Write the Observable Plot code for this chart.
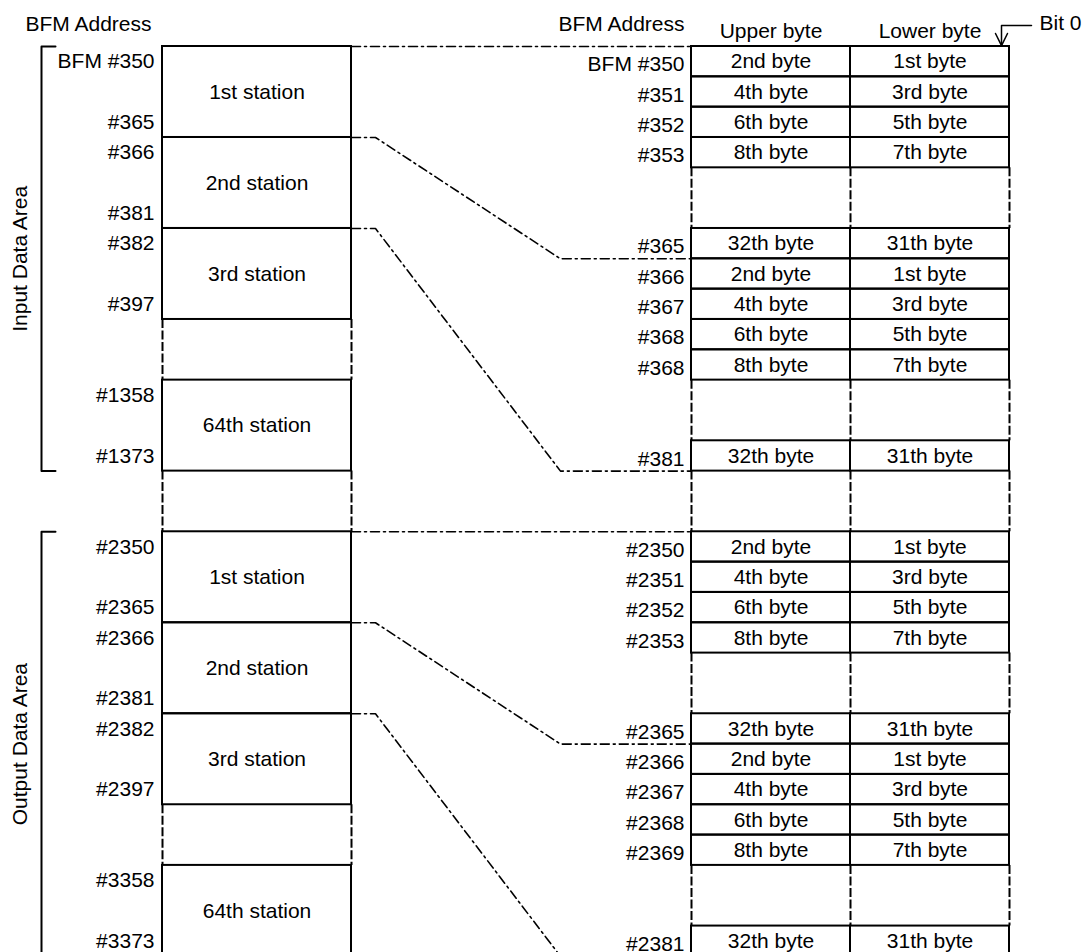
<!DOCTYPE html>
<html><head><meta charset="utf-8">
<script src="https://cdn.jsdelivr.net/npm/d3@7"></script>
<script src="https://cdn.jsdelivr.net/npm/@observablehq/plot@0.6"></script>
<style>html,body{margin:0;padding:0;background:#fff;overflow:hidden}</style>
</head><body><div id="chart"></div>
<script>
// ---------------- data ----------------
const areaNames = ["Input Data Area", "Output Data Area"];
const areaOffset = [0, 16];                 // first word-row of each area
const stationNames = ["1st station", "2nd station", "3rd station", "64th station"];
const stationRow = [0, 3, 6, 11];           // start row of each station inside an area (3 rows each)
const stationSpan = 3;
const inputFirstAddr = ["BFM #350", "#366", "#382", "#1358"];
const inputLastAddr  = ["#365", "#381", "#397", "#1373"];
const outputFirstAddr = ["#2350", "#2366", "#2382", "#3358"];
const outputLastAddr  = ["#2365", "#2381", "#2397", "#3373"];
const wordRow = [0, 1, 2, 3, 6, 7, 8, 9, 10, 13];
const inputWords  = ["BFM #350", "#351", "#352", "#353", "#365", "#366", "#367", "#368", "#368", "#381"];
const outputWords = ["#2350", "#2351", "#2352", "#2353", "#2365", "#2366", "#2367", "#2368", "#2369", "#2381"];
const upperBytes = ["2nd byte", "4th byte", "6th byte", "8th byte", "32th byte", "2nd byte", "4th byte", "6th byte", "8th byte", "32th byte"];
const lowerBytes = ["1st byte", "3rd byte", "5th byte", "7th byte", "31th byte", "1st byte", "3rd byte", "5th byte", "7th byte", "31th byte"];
const linkTargetRow = [0, 7, 14];           // row boundary in the word table reached by stations 1..3
const headerLeft = "BFM Address";
const headerRight = "BFM Address";
const columnHeaders = ["Upper byte", "Lower byte"];
const bitLabel = "Bit 0";

// ---------------- layout ----------------
const W = 1084, H = 952, ROW_PX = 30.33, TOP_PX = 46;
const X = {headerLeft: 25, areaLabel: 20, bracket: 41, bracketTick: 55, leftAddr: 154,
  blockL: 162, blockR: 351, bend1: 375, bend2: 560, rightAddr: 684,
  tableL: 691, tableM: 850, tableR: 1009, bitArrow: 1001, bitLineEnd: 1031, bitText: 1039};
const FONT = 21;

const firstAddr = [inputFirstAddr, outputFirstAddr];
const lastAddr = [inputLastAddr, outputLastAddr];
const words = [inputWords, outputWords];
const areaRows = stationRow[stationRow.length - 1] + stationSpan;

const stations = areaNames.flatMap((a, ai) => stationNames.map((name, i) => ({
  name, first: firstAddr[ai][i], last: lastAddr[ai][i],
  y1: areaOffset[ai] + stationRow[i], y2: areaOffset[ai] + stationRow[i] + stationSpan
})));
const rows = areaNames.flatMap((a, ai) => wordRow.map((r, i) => ({
  addr: words[ai][i], upper: upperBytes[i], lower: lowerBytes[i],
  y1: areaOffset[ai] + r, y2: areaOffset[ai] + r + 1
})));

// gaps (dashed sides)
const leftGaps = [];
const rightGaps = [];
areaNames.forEach((a, ai) => {
  for (let i = 1; i < stationRow.length; i++) {
    const end = stationRow[i - 1] + stationSpan;
    if (stationRow[i] > end) leftGaps.push([areaOffset[ai] + end, areaOffset[ai] + stationRow[i]]);
  }
  for (let i = 1; i < wordRow.length; i++) {
    if (wordRow[i] > wordRow[i - 1] + 1) rightGaps.push([areaOffset[ai] + wordRow[i - 1] + 1, areaOffset[ai] + wordRow[i]]);
  }
  if (ai + 1 < areaNames.length) {
    leftGaps.push([areaOffset[ai] + areaRows, areaOffset[ai + 1]]);
    rightGaps.push([areaOffset[ai] + wordRow[wordRow.length - 1] + 1, areaOffset[ai + 1]]);
  }
});
const gapRules = [
  ...leftGaps.flatMap(([a, b]) => [X.blockL, X.blockR].map(x => ({x, y1: a, y2: b}))),
  ...rightGaps.flatMap(([a, b]) => [X.tableL, X.tableM, X.tableR].map(x => ({x, y1: a, y2: b})))
];

// dash-dot connectors
const links = areaNames.flatMap((a, ai) => linkTargetRow.flatMap((t, i) => {
  const ys = areaOffset[ai] + stationRow[i], ye = areaOffset[ai] + t, id = ai + "-" + i;
  return [[X.blockR, ys], [X.bend1, ys], [X.bend2, ye], [X.tableL, ye]].map(([x, y]) => ({x, y, id}));
}));

// brackets
const brackets = areaNames.flatMap((a, ai) => {
  const s = areaOffset[ai], e = areaOffset[ai] + areaRows;
  return [[X.bracketTick, s], [X.bracket, s], [X.bracket, e], [X.bracketTick, e]].map(([x, y]) => ({x, y, id: ai}));
});
const areaLabels = areaNames.map((name, ai) => ({name, y: areaOffset[ai] + areaRows / 2}));

const headersStart = [{t: headerLeft, x: X.headerLeft, y: -0.72}, {t: bitLabel, x: X.bitText, y: -0.75}];
const headersEnd = [{t: headerRight, x: X.rightAddr, y: -0.72}];
const headersMiddle = [
  {t: columnHeaders[0], x: (X.tableL + X.tableM) / 2, y: -0.5},
  {t: columnHeaders[1], x: (X.tableM + X.tableR) / 2, y: -0.5}
];
// Bit 0 pointer: elbow line + open arrowhead
const bitY = -0.69, headTop = -0.43, headTip = -0.03, headHalf = 6;
const pointer = [
  {x: X.bitLineEnd, y: bitY, id: "elbow"}, {x: X.bitArrow, y: bitY, id: "elbow"}, {x: X.bitArrow, y: headTip, id: "elbow"},
  {x: X.bitArrow - headHalf, y: headTop, id: "head"}, {x: X.bitArrow, y: headTip, id: "head"}, {x: X.bitArrow + headHalf, y: headTop, id: "head"}
];

const solid = {stroke: "black", strokeWidth: 2};
const txt = {fontSize: FONT, fill: "black"};

const chart = Plot.plot({
  width: W, height: H,
  margin: 0,
  x: {domain: [0, W], range: [0, W], axis: null},
  y: {domain: [-TOP_PX / ROW_PX, (H - TOP_PX) / ROW_PX], range: [0, H], axis: null},
  style: {fontFamily: "'Liberation Sans', Arial, Helvetica, sans-serif", fontSize: FONT + "px", background: "white", overflow: "hidden"},
  marks: [
    // left blocks
    Plot.rect(stations, {x1: () => X.blockL, x2: () => X.blockR, y1: "y1", y2: "y2", fill: "none", ...solid}),
    // right table
    Plot.rect(rows, {x1: () => X.tableL, x2: () => X.tableM, y1: "y1", y2: "y2", fill: "none", ...solid}),
    Plot.rect(rows, {x1: () => X.tableM, x2: () => X.tableR, y1: "y1", y2: "y2", fill: "none", ...solid}),
    // dashed gap sides
    Plot.ruleX(gapRules, {x: "x", y1: "y1", y2: "y2", stroke: "black", strokeWidth: 2, strokeDasharray: "9,2.5"}),
    // connectors
    Plot.line(links, {x: "x", y: "y", z: "id", stroke: "black", strokeWidth: 1.6, strokeDasharray: "9,4,2,4", curve: "linear"}),
    // brackets
    Plot.line(brackets, {x: "x", y: "y", z: "id", stroke: "black", strokeWidth: 2, curve: "linear"}),
    Plot.text(areaLabels, {x: () => X.areaLabel, y: "y", text: "name", rotate: -90, ...txt}),
    // left addresses & station names
    Plot.text(stations, {x: () => X.leftAddr, y: d => d.y1 + 0.5, text: "first", textAnchor: "end", ...txt}),
    Plot.text(stations, {x: () => X.leftAddr, y: d => d.y2 - 0.5, text: "last", textAnchor: "end", ...txt}),
    Plot.text(stations, {x: () => (X.blockL + X.blockR) / 2, y: d => (d.y1 + d.y2) / 2, text: "name", ...txt}),
    // right table text
    Plot.text(rows, {x: () => X.rightAddr, y: d => (d.y1 + d.y2) / 2, dy: 3, text: "addr", textAnchor: "end", ...txt}),
    Plot.text(rows, {x: () => (X.tableL + X.tableM) / 2, y: d => (d.y1 + d.y2) / 2, text: "upper", ...txt}),
    Plot.text(rows, {x: () => (X.tableM + X.tableR) / 2, y: d => (d.y1 + d.y2) / 2, text: "lower", ...txt}),
    // headers
    Plot.text(headersStart, {x: "x", y: "y", text: "t", textAnchor: "start", ...txt}),
    Plot.text(headersEnd, {x: "x", y: "y", text: "t", textAnchor: "end", ...txt}),
    Plot.text(headersMiddle, {x: "x", y: "y", text: "t", textAnchor: "middle", ...txt}),
    // Bit 0 pointer
    Plot.line(pointer, {x: "x", y: "y", z: "id", stroke: "black", strokeWidth: 1.5, curve: "linear"})
  ]
});
document.getElementById("chart").appendChild(chart);
</script></body></html>
